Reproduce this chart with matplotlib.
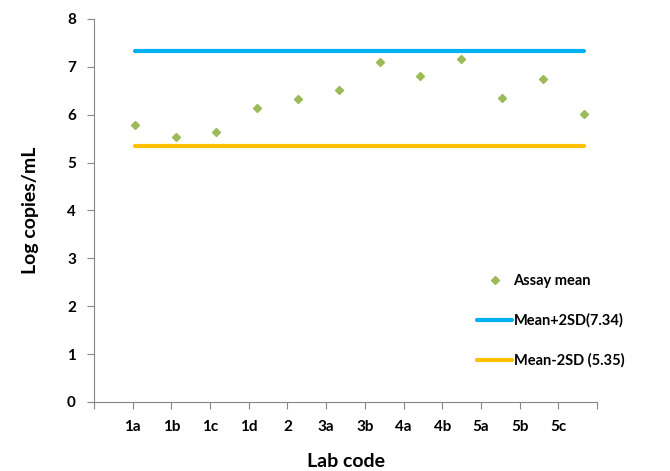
import matplotlib
matplotlib.use("Agg")
import matplotlib.pyplot as plt

lab_codes = ["1a", "1b", "1c", "1d", "2", "3a", "3b", "4a", "4b", "5a", "5b", "5c"]
assay_mean = [5.79, 5.53, 5.63, 6.15, 6.32, 6.51, 7.10, 6.80, 7.16, 6.34, 6.74, 6.01]
upper_limit = 7.34
lower_limit = 5.35

GREEN = "#9BBB59"
BLUE = "#00B0F0"
ORANGE = "#FFC000"
GRAY = "#868686"

plt.rcParams["font.family"] = ["Lato", "DejaVu Sans"]
plt.rcParams["font.weight"] = "bold"

fig = plt.figure(figsize=(6.7, 4.71), dpi=100)
ax = fig.add_axes([0.1403, 0.1465, 0.7508, 0.8132])

# category axis (labels), ticks between edges like Excel
n = len(lab_codes)
ax.set_xlim(0, n + 1)
ax.set_xticks(range(0, n + 2))
ax.set_xticklabels([""] + lab_codes + [""])
ax.set_ylim(0, 8)
ax.set_yticks(range(0, 9))

# secondary scatter axis, as in the original combo chart
ax2 = ax.twiny()
xs = list(range(1, n + 1))
ax2.set_xlim(0, n + 0.33)
ax2.plot(xs, assay_mean, linestyle="none", marker="D", markersize=4.5,
         color=GREEN, label="Assay mean")
ax2.plot([xs[0], xs[-1]], [upper_limit, upper_limit], color=BLUE, lw=3,
         solid_capstyle="round", label="Mean+2SD(7.34)")
ax2.plot([xs[0], xs[-1]], [lower_limit, lower_limit], color=ORANGE, lw=3,
         solid_capstyle="round", label="Mean-2SD (5.35)")
ax2.set_xticks([])
for a in (ax, ax2):
    for s in ("top", "right"):
        a.spines[s].set_visible(False)
    for s in ("left", "bottom"):
        a.spines[s].set_color(GRAY)
ax2.spines["left"].set_visible(False)
ax2.spines["bottom"].set_visible(False)

ax.tick_params(axis="both", color=GRAY, length=5, width=0.8, labelsize=11)
ax.tick_params(axis="x", pad=8)
ax.tick_params(axis="y", pad=8)
for lbl in ax.get_xticklabels() + ax.get_yticklabels():
    lbl.set_fontweight("bold")

ax.set_ylabel("Log copies/mL", fontsize=14, fontweight="bold", labelpad=20)
ax.set_xlabel("Lab code", fontsize=14, fontweight="bold", labelpad=14)

leg = ax2.legend(loc="lower right", bbox_to_anchor=(1.08, 0.055), frameon=False,
                 labelspacing=1.75, handlelength=2.4, handletextpad=0.1,
                 prop={"weight": "bold", "size": 10.5})

fig.savefig("out.png", dpi=100)
